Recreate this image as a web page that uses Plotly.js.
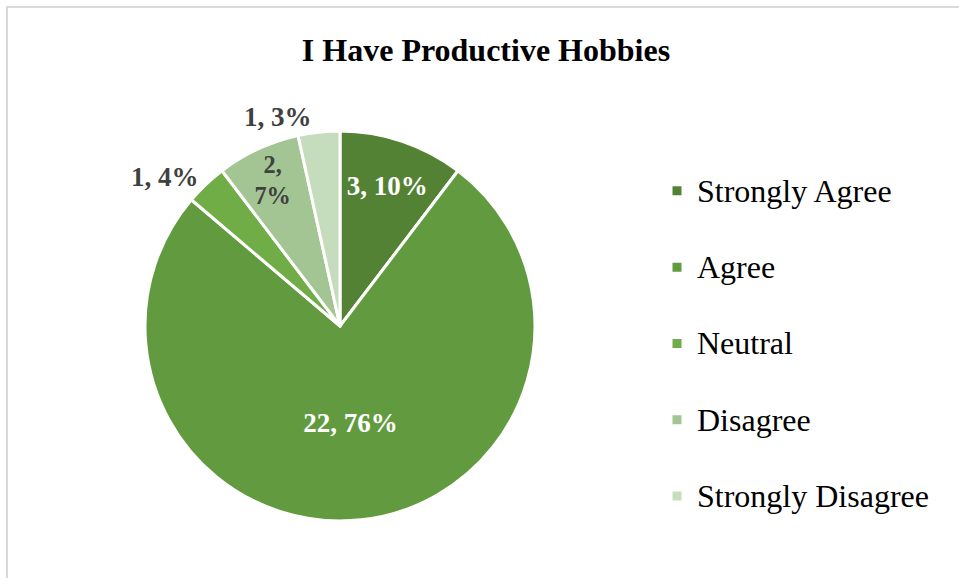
<!DOCTYPE html>
<html>
<head>
<meta charset="utf-8">
<script src="https://cdn.plot.ly/plotly-3.0.1.min.js"></script>
<style>
html,body{margin:0;padding:0;background:#fff;}
#wrap{position:relative;width:959px;height:578px;}
#chart{width:959px;height:578px;}
#frame{position:absolute;left:6px;top:6px;right:0;bottom:0;border-top:2px solid #D9D9D9;border-left:2px solid #D9D9D9;pointer-events:none;}
</style>
</head>
<body>
<div id="wrap"><div id="chart"></div><div id="frame"></div></div>
<script>
const categories = ["Strongly Agree", "Agree", "Neutral", "Disagree", "Strongly Disagree"];
const counts = [3, 22, 1, 2, 1];
const percentLabels = [10, 76, 4, 7, 3];
const sliceColors = ["#548235", "#629B3F", "#70AD47", "#A3C593", "#C5DCBD"];

const textLabels = counts.map((c, i) => c + "," + (categories[i] === "Disagree" ? "<br>" : " ") + percentLabels[i] + "%");

const trace = {
  type: "pie",
  labels: categories.map(c => "<span style=\"font-size:32px\">" + c + "</span><br> "),
  values: counts,
  text: textLabels,
  texttemplate: "%{text}",
  textinfo: "text",
  sort: false,
  direction: "clockwise",
  rotation: 0,
  marker: {colors: sliceColors, line: {color: "#FFFFFF", width: 3}},
  textposition: ["inside", "inside", "outside", "inside", "outside"],
  insidetextorientation: "horizontal",
  textfont: {family: "Liberation Serif, Times New Roman, serif", size: 27, color: ["#FFFFFF", "#FFFFFF", "#404040", "#404040", "#404040"], weight: "bold"},
  outsidetextfont: {family: "Liberation Serif, Times New Roman, serif", size: 27, color: "#404040", weight: "bold"},
  domain: {x: [145/959, 535/959], y: [57/578, 447/578]},
  automargin: false,
  hoverinfo: "value+percent"
};

const layout = {
  width: 959,
  height: 578,
  margin: {l: 0, r: 0, t: 0, b: 0, autoexpand: false},
  paper_bgcolor: "#FFFFFF",
  title: {
    text: "<b>I Have Productive Hobbies</b>",
    font: {family: "Liberation Serif, Times New Roman, serif", size: 32, color: "#000000"},
    x: 486/959, xanchor: "center", xref: "paper",
    y: 1 - 50/578, yanchor: "middle", yref: "paper"
  },
  showlegend: true,
  legend: {
    x: 657/959, xanchor: "left",
    y: 1 - 166/578, yanchor: "top",
    valign: "top",
    font: {family: "Liberation Serif, Times New Roman, serif", size: 28.2, color: "#000000"},
    bgcolor: "rgba(0,0,0,0)"
  }
};

Plotly.newPlot("chart", [trace], layout, {displayModeBar: false, staticPlot: true});
</script>
</body>
</html>
